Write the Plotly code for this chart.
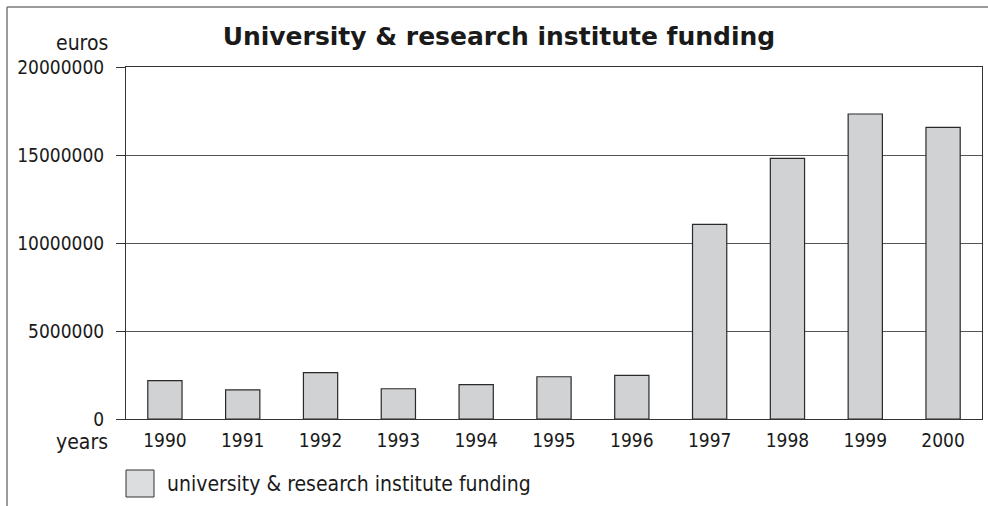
import plotly.graph_objects as go

years = ["1990", "1991", "1992", "1993", "1994", "1995", "1996", "1997", "1998", "1999", "2000"]
funding = [2180000, 1650000, 2630000, 1720000, 1950000, 2400000, 2480000, 11060000, 14810000, 17330000, 16570000]
y_ticks = [0, 5000000, 10000000, 15000000, 20000000]
series_name = "university & research institute funding"
title_text = "University & research institute funding"

FONT = "DejaVu Sans Condensed, Roboto, sans-serif"
FS = 19
FS_TXT = 21
W, H = 988, 506
L, R, T, B = 126, 6, 67, 87
pw = W - L - R
ph = H - T - B

def px(x):
    return (x - L) / pw

def py(y):
    return (H - B - y) / ph

fig = go.Figure()
fig.add_trace(go.Bar(
    x=years, y=funding, name=series_name,
    marker=dict(color="#d1d2d4", line=dict(color="#2a2a2a", width=1.2)),
    showlegend=False,
))

fig.update_layout(
    width=W, height=H,
    margin=dict(l=L, r=R, t=T, b=B),
    paper_bgcolor="white", plot_bgcolor="white",
    bargap=0.56,
    font=dict(family=FONT, size=FS, color="#1a1a1a"),
    title=dict(text="<b>" + title_text + "</b>", x=0.505, xanchor="center",
               y=1 - 36 / H, yanchor="middle", yref="container",
               font=dict(family="DejaVu Sans, sans-serif", size=25, color="#1a1a1a")),
    xaxis=dict(showline=True, mirror=True, linecolor="#333", linewidth=1,
               ticks="", showgrid=False, tickfont=dict(family=FONT, size=FS),
               ticklabelstandoff=4),
    yaxis=dict(range=[0, 20000000], tickvals=y_ticks, ticktext=[str(v) for v in y_ticks],
               showline=True, mirror=True, linecolor="#333", linewidth=1,
               ticks="outside", ticklen=9, tickcolor="#333", tickwidth=1,
               showgrid=True, gridcolor="#555", gridwidth=1,
               zeroline=False, tickfont=dict(family=FONT, size=FS),
               ticklabelstandoff=8),
)

# frame lines around the whole chart
fig.add_shape(type="line", xref="paper", yref="paper",
              x0=px(7), x1=px(990), y0=py(7), y1=py(7),
              line=dict(color="#7a7a7a", width=1.5))
fig.add_shape(type="line", xref="paper", yref="paper",
              x0=px(7), x1=px(7), y0=py(7), y1=py(510),
              line=dict(color="#7a7a7a", width=1.5))

# axis captions
fig.add_annotation(text="euros", xref="paper", yref="paper", x=px(110), y=py(43),
                   xanchor="right", yanchor="middle", showarrow=False,
                   font=dict(family=FONT, size=FS_TXT))
fig.add_annotation(text="years", xref="paper", yref="paper", x=px(110), y=py(442),
                   xanchor="right", yanchor="middle", showarrow=False,
                   font=dict(family=FONT, size=FS_TXT))

# legend
fig.add_shape(type="rect", xref="paper", yref="paper",
              x0=px(126), x1=px(154), y0=py(470), y1=py(497),
              fillcolor="#dcdddf", line=dict(color="#333", width=1))
fig.add_annotation(text=series_name, xref="paper", yref="paper", x=px(165), y=py(484),
                   xanchor="left", yanchor="middle", showarrow=False,
                   font=dict(family=FONT, size=FS_TXT))

fig.write_html("out.html")
